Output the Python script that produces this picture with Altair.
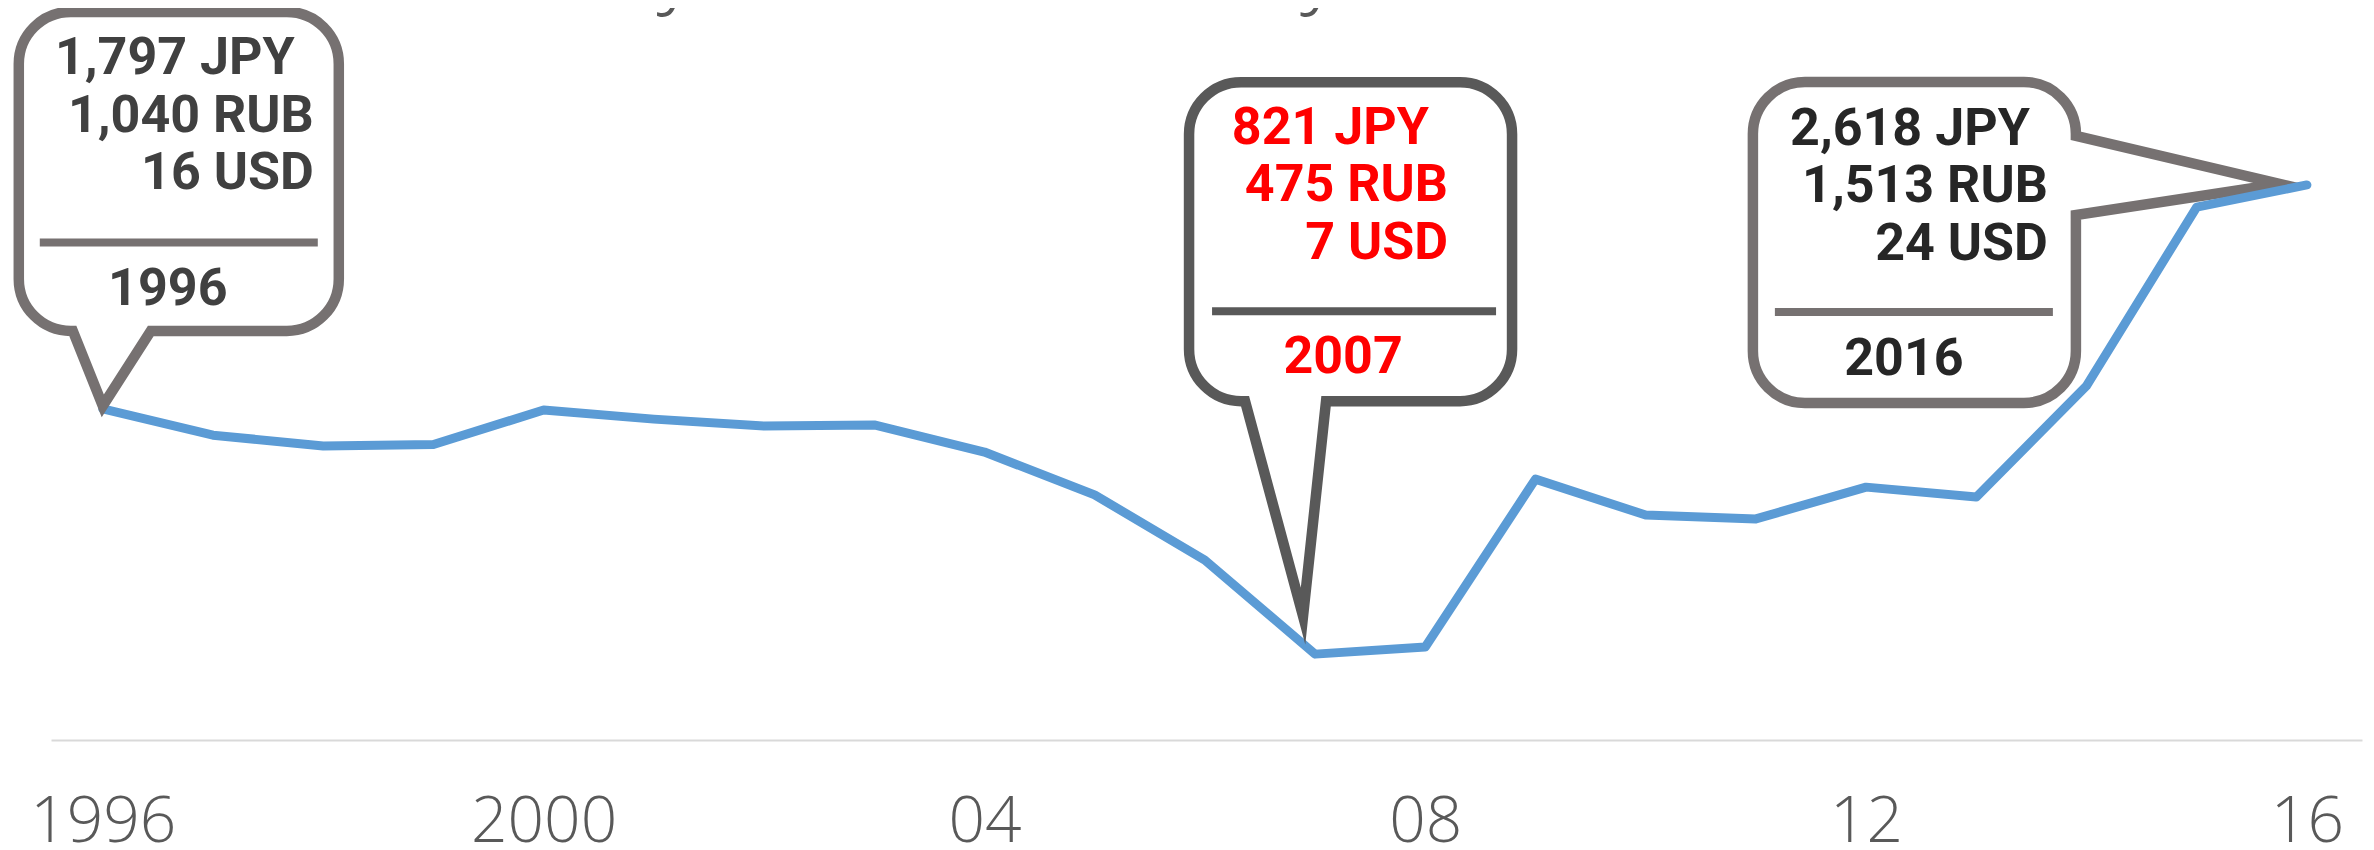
import altair as alt
import pandas as pd

# ---------------- data ----------------
years = list(range(1996, 2017))
usd_per_hour = [15.90, 14.95, 14.56, 14.61, 15.86, 15.53, 15.28, 15.32, 14.34, 12.79,
                10.43, 7.03, 7.29, 13.36, 12.06, 11.92, 13.07, 12.71, 16.73, 23.20, 24.00]

callout_years = [1996, 2007, 2016]
callout_jpy = [1797, 821, 2618]
callout_rub = [1040, 475, 1513]
callout_usd = [16, 7, 24]

tick_years = [1996, 2000, 2004, 2008, 2012, 2016]
title_text = "Hourly Income of Daily Farmer"

series = pd.DataFrame({"year": years, "usd": usd_per_hour})

# ---------------- scales / encodings ----------------
X_DOMAIN = [1995.53, 2016.5]
Y_DOMAIN = [3.924, 30.40]

x_enc = alt.X(
    "year:Q",
    scale=alt.Scale(domain=X_DOMAIN, nice=False, zero=False),
    axis=alt.Axis(
        values=tick_years,
        format="d",
        labelExpr="datum.value <= 2000 ? datum.label : substring(datum.label, 2)",
        title=None,
    ),
)
y_enc = alt.Y("usd:Q", scale=alt.Scale(domain=Y_DOMAIN, nice=False, zero=False), axis=None)

# ---------------- callout shapes (relative to anchor point, px) ----------------
R_CORNER = 52


def bubble_path(body, side, base, tip):
    L, R, T, B = body
    r = R_CORNER
    p = [f"M{L + r},{T}", f"L{R - r},{T}", f"A{r},{r} 0 0 1 {R},{T + r}"]
    if side == "right":
        p += [f"L{R},{base[0]}", f"L{tip[0]},{tip[1]}", f"L{R},{base[1]}"]
    p += [f"L{R},{B - r}", f"A{r},{r} 0 0 1 {R - r},{B}"]
    if side == "bottom":
        p += [f"L{base[1]},{B}", f"L{tip[0]},{tip[1]}", f"L{base[0]},{B}"]
    p += [f"L{L + r},{B}", f"A{r},{r} 0 0 1 {L},{B - r}", f"L{L},{T + r}",
          f"A{r},{r} 0 0 1 {L + r},{T}", "Z"]
    return " ".join(p)


styles = [
    dict(stroke="#767171", text="#404040", body=(-84, 236, -397, -78), side="bottom",
         base=(-30, 48), tip=(0, -3), divider=(-63, 215, -166.5), right=211, right_jpy=192,
         baselines=(-335, -277, -220), year_pos=(65, -104)),
    dict(stroke="#595959", text="#FF0000", body=(-126, 197, -572, -253), side="bottom",
         base=(-70, 11), tip=(-12, -38), divider=(-103, 181, -343), right=133, right_jpy=114,
         baselines=(-510, -453, -395), year_pos=(28, -281)),
    dict(stroke="#767171", text="#262626", body=(-554, -231, -103, 218), side="right",
         base=(-49, 30), tip=(-27, -1), divider=(-532, -254, 127), right=-259, right_jpy=-277,
         baselines=(-40, 17, 75), year_pos=(-403, 190)),
]

FONT = "Roboto"
FSIZE = 52

line_layer = alt.Chart(series).mark_line(
    color="#5B9BD5", strokeWidth=9, strokeJoin="round", strokeCap="round"
).encode(x=x_enc, y=y_enc)

callout_layers = []
for i, yr in enumerate(callout_years):
    st = styles[i]
    val = usd_per_hour[years.index(yr)]
    lines = [f"{callout_jpy[i]:,} JPY", f"{callout_rub[i]:,} RUB", f"{callout_usd[i]:,} USD"]
    df = pd.DataFrame({"year": [yr], "usd": [val], "l0": [lines[0]], "l1": [lines[1]],
                       "l2": [lines[2]], "yl": [str(yr)]})
    base = alt.Chart(df).encode(x=x_enc, y=y_enc)
    layers = [
        base.mark_point(
            shape=bubble_path(st["body"], st["side"], st["base"], st["tip"]),
            size=4, filled=True, fill="white", stroke=st["stroke"], strokeWidth=10.5,
            strokeJoin="miter", strokeMiterLimit=12, opacity=1, fillOpacity=1, strokeOpacity=1,
        ),
        base.mark_point(
            shape=f"M{st['divider'][0]},{st['divider'][2]} L{st['divider'][1]},{st['divider'][2]}",
            size=4, filled=False, stroke=st["stroke"], strokeWidth=8, strokeCap="butt",
            opacity=1, strokeOpacity=1,
        ),
    ]
    for k in range(3):
        dx = st["right_jpy"] if k == 0 else st["right"]
        layers.append(
            base.mark_text(
                align="right", baseline="alphabetic", dx=dx, dy=st["baselines"][k],
                font=FONT, fontWeight="bold", fontSize=FSIZE, color=st["text"],
            ).encode(text=f"l{k}:N")
        )
    layers.append(
        base.mark_text(
            align="center", baseline="alphabetic", dx=st["year_pos"][0], dy=st["year_pos"][1],
            font=FONT, fontWeight="bold", fontSize=FSIZE, color=st["text"],
        ).encode(text="yl:N")
    )
    callout_layers.append(alt.layer(*layers))

title_layer = alt.Chart(pd.DataFrame({"t": [title_text]})).mark_text(
    align="center", baseline="alphabetic", font="Open Sans", fontWeight=300,
    fontSize=90, color="#595959",
).encode(text="t:N", x=alt.value(993), y=alt.value(-12))

chart = alt.layer(
    title_layer,
    callout_layers[2],
    line_layer,
    callout_layers[0],
    callout_layers[1],
).properties(
    width=2311,
    height=732,
    autosize=alt.AutoSizeParams(type="none"),
    padding={"left": 43, "right": 4, "top": 0, "bottom": 108},
).configure_view(
    stroke=None
).configure_axis(
    domainColor="#D9D9D9",
    domainWidth=2,
    ticks=False,
    tickSize=0,
    grid=False,
    labelFont="Open Sans",
    labelFontWeight=300,
    labelFontSize=64,
    labelColor="#595959",
    labelPadding=101,
    labelBaseline="alphabetic",
    labelFlush=False,
    labelOverlap=False,
)

chart.save("out.html", embed_options={"renderer": "svg", "actions": False})
